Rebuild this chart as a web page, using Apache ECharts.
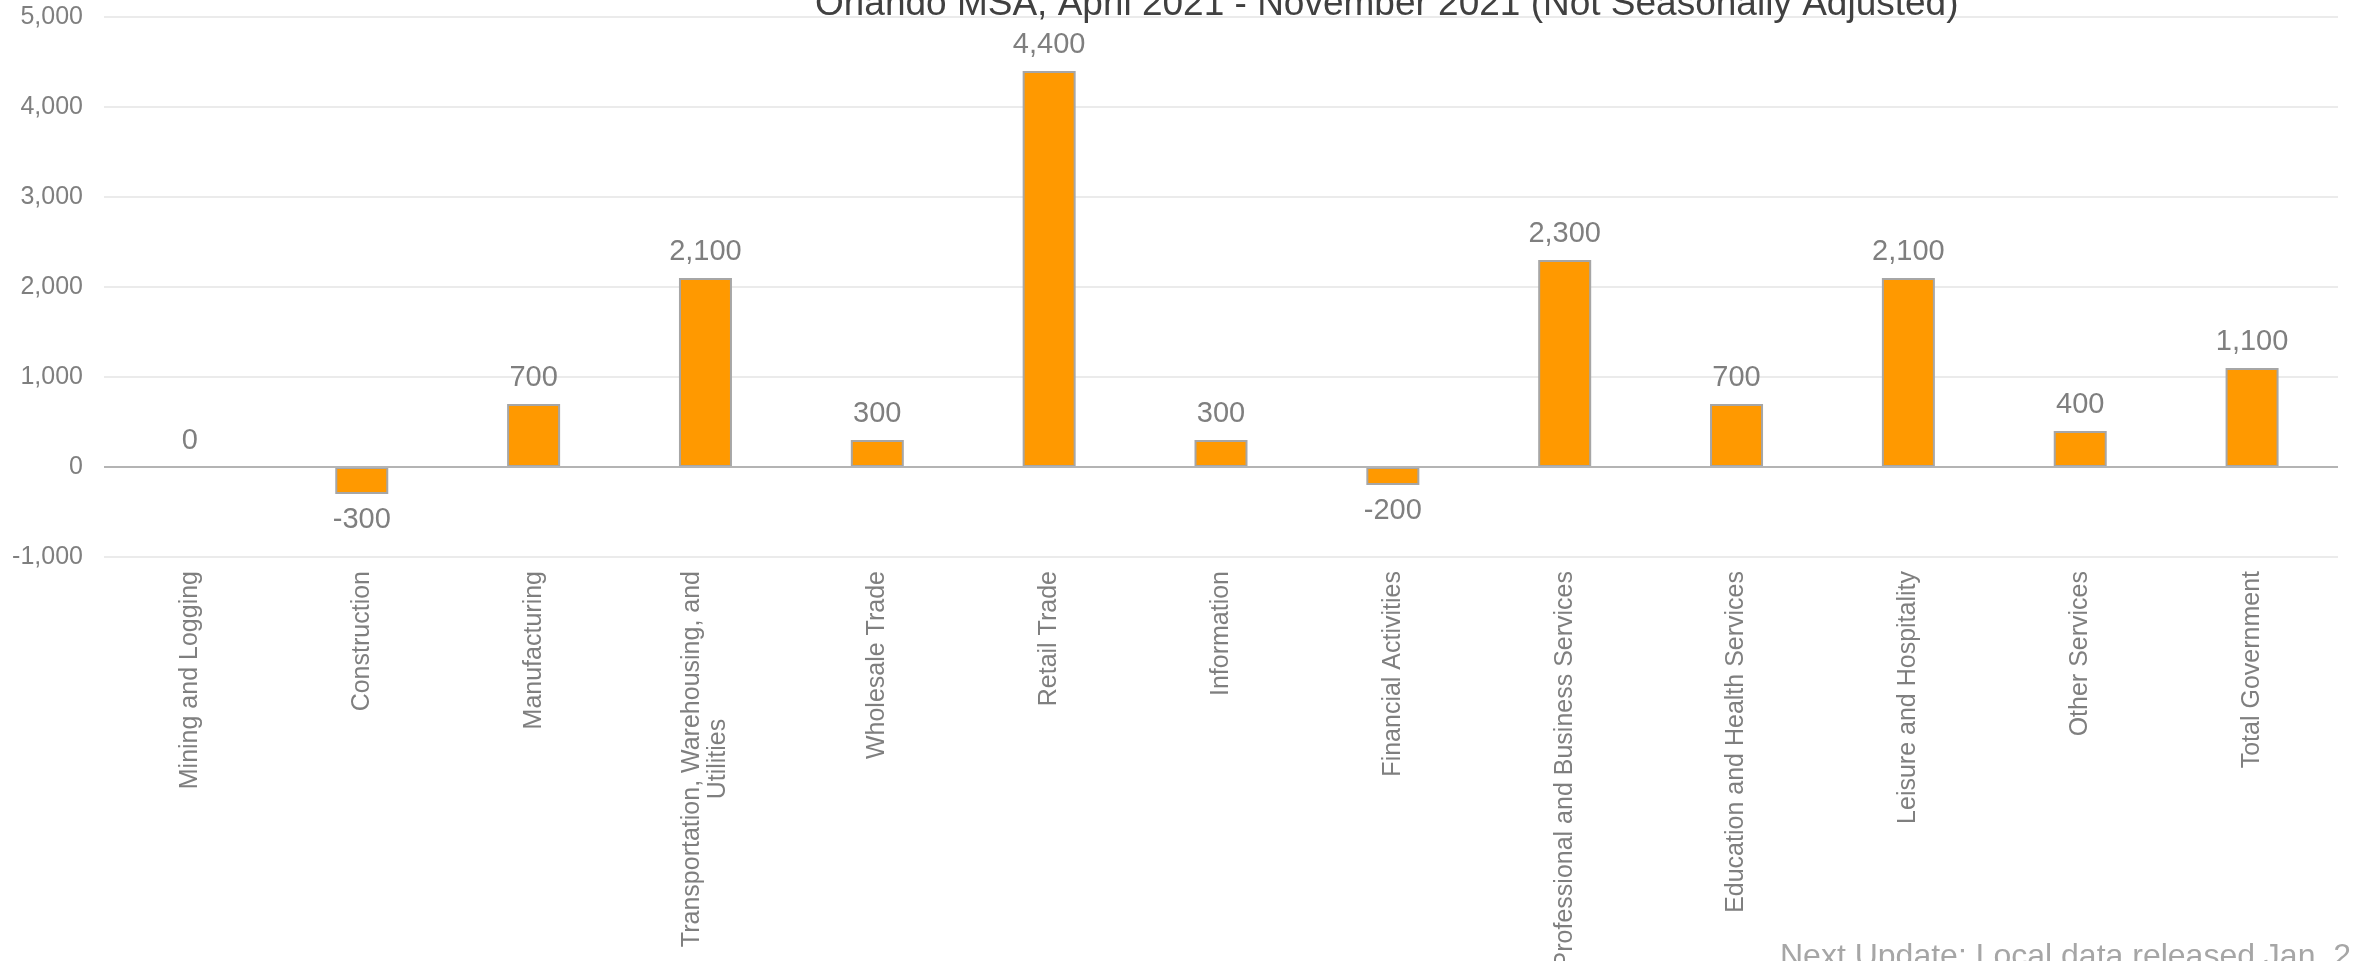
<!DOCTYPE html>
<html>
<head>
<meta charset="utf-8">
<title>Orlando MSA employment change by industry</title>
<script src="https://cdn.jsdelivr.net/npm/echarts@6/dist/echarts.min.js"></script>
<style>
  html, body { margin: 0; padding: 0; background: #ffffff; }
  #chart { width: 2354px; height: 961px; }
</style>
</head>
<body>
<div id="chart"></div>
<script>
// Over-the-period job change by industry
const categories = [
  'Mining and Logging',
  'Construction',
  'Manufacturing',
  'Transportation, Warehousing, and\nUtilities',
  'Wholesale Trade',
  'Retail Trade',
  'Information',
  'Financial Activities',
  'Professional and Business Services',
  'Education and Health Services',
  'Leisure and Hospitality',
  'Other Services',
  'Total Government'
];
const jobChange = [0, -300, 700, 2100, 300, 4400, 300, -200, 2300, 700, 2100, 400, 1100];

const yMin = -1000;
const yMax = 5000;
const yStep = 1000;

const titleText = 'Orlando MSA, April 2021 - November 2021 (Not Seasonally Adjusted)';
const footnoteText = 'Next Update: Local data released Jan. 21, 2022';

const FONT = "'Liberation Sans', Arial, sans-serif";
const fmt = v => v.toLocaleString('en-US');

const chart = echarts.init(document.getElementById('chart'), null, { renderer: 'canvas' });

chart.setOption({
  animation: false,
  backgroundColor: '#ffffff',
  title: {
    text: titleText,
    left: 815,
    top: -14,
    padding: 0,
    textStyle: { fontFamily: FONT, fontSize: 37, fontWeight: 'normal', color: '#404040' }
  },
  grid: {
    left: 104, right: 16, top: 17, bottom: 961 - 557,
    containLabel: false,
    outerBoundsMode: 'none'
  },
  xAxis: {
    type: 'category',
    data: categories,
    axisLine: { show: false, onZero: false },
    axisTick: { show: false },
    axisLabel: {
      rotate: 90,
      interval: 0,
      margin: 14,
      fontFamily: FONT,
      fontSize: 25,
      color: '#7f7f7f',
      lineHeight: 26,
      formatter: function (v) {
        return v.split('\n').map(function (line) { return '{c|' + line + '}'; }).join('\n');
      },
      rich: {
        c: { align: 'center', fontFamily: FONT, fontSize: 25, color: '#7f7f7f', lineHeight: 26 }
      }
    }
  },
  yAxis: {
    type: 'value',
    min: yMin,
    max: yMax,
    interval: yStep,
    axisLine: { show: false },
    axisTick: { show: false },
    axisLabel: {
      margin: 21,
      fontFamily: FONT,
      fontSize: 25,
      color: '#7f7f7f',
      formatter: fmt
    },
    splitLine: { lineStyle: { color: '#ebebeb', width: 2 } }
  },
  series: [{
    type: 'bar',
    barWidth: 53,
    data: jobChange.map(function (v) {
      return {
        value: v,
        itemStyle: v === 0 ? { borderWidth: 0 } : undefined,
        label: { position: v < 0 ? 'bottom' : 'top', distance: v < 0 ? 11 : 12 }
      };
    }),
    itemStyle: { color: '#FF9900', borderColor: '#a6a6a6', borderWidth: 2 },
    label: {
      show: true,
      fontFamily: FONT,
      fontSize: 29,
      color: '#7f7f7f',
      formatter: function (p) { return fmt(p.value); }
    },
    markLine: {
      silent: true,
      symbol: ['none', 'none'],
      label: { show: false },
      lineStyle: { color: '#b4b4b4', width: 2, type: 'solid' },
      data: [{ yAxis: 0 }]
    }
  }],
  graphic: [{
    type: 'text',
    left: 1780,
    top: 941,
    style: { text: footnoteText, fontFamily: FONT, fontSize: 32, fill: '#a6a6a6' }
  }]
});
</script>
</body>
</html>
